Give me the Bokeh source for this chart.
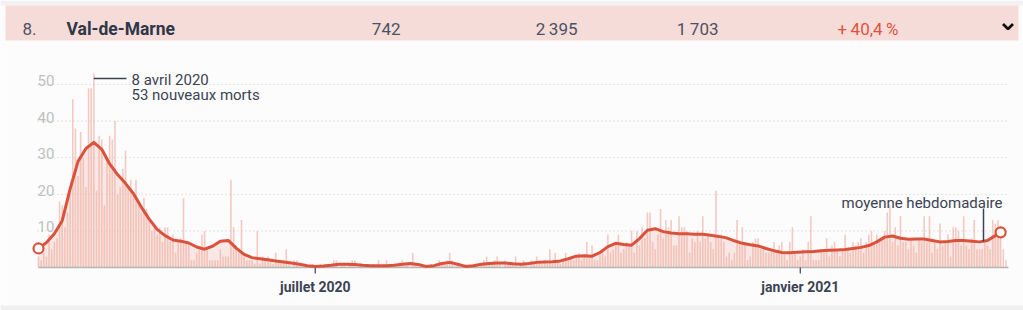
from bokeh.plotting import figure
from bokeh.models import Range1d
from bokeh.core.properties import value
from bokeh.embed import file_html
from bokeh.resources import INLINE
import pandas as pd

# ---------------- data ----------------
START_DATE = "2020-03-18"
daily_deaths = [
    3, 2, 4, 3, 9, 5, 7, 8, 18, 17,
    11, 15, 20, 46, 38, 25, 37, 30, 22, 49,
    49, 53, 21, 36, 35, 17, 29, 36, 35, 40,
    20, 22, 27, 32, 22, 24, 20, 24, 18, 15,
    19, 16, 13, 10, 12, 9, 11, 7, 11, 11,
    7, 9, 4, 7, 8, 19, 7, 7, 2, 2,
    4, 5, 9, 10, 5, 2, 2, 2, 2, 5,
    3, 3, 3, 24, 11, 6, 5, 13, 3, 2,
    2, 2, 1, 10, 1, 3, 2, 3, 2, 1,
    4, 2, 1, 2, 5, 1, 0, 2, 2, 1,
    0, 1, 0, 0, 1, 0, 0, 1, 0, 1,
    1, 0, 2, 2, 0, 1, 1, 0, 1, 2,
    2, 0, 1, 0, 1, 0, 0, 1, 0, 2,
    0, 1, 2, 0, 0, 1, 0, 1, 2, 1,
    1, 0, 4, 1, 0, 1, 0, 0, 0, 1,
    0, 1, 2, 1, 1, 2, 4, 2, 0, 1,
    0, 0, 1, 0, 0, 1, 1, 0, 1, 2,
    3, 1, 1, 2, 3, 1, 0, 2, 1, 1,
    1, 3, 0, 1, 2, 1, 0, 2, 1, 3,
    2, 1, 2, 1, 5, 1, 4, 2, 1, 2,
    4, 2, 3, 2, 3, 4, 2, 3, 7, 3,
    6, 2, 2, 4, 5, 3, 9, 4, 5, 6,
    9, 4, 5, 7, 6, 10, 4, 10, 6, 11,
    8, 15, 15, 7, 5, 9, 16, 8, 13, 11,
    13, 6, 6, 14, 11, 11, 10, 4, 8, 7,
    10, 7, 14, 8, 9, 7, 5, 21, 9, 9,
    7, 3, 4, 2, 4, 13, 7, 11, 7, 2,
    3, 7, 8, 8, 5, 5, 4, 4, 5, 7,
    4, 6, 7, 4, 2, 7, 11, 4, 2, 3,
    5, 2, 7, 14, 2, 2, 2, 5, 4, 8,
    3, 6, 7, 5, 3, 5, 9, 5, 4, 7,
    6, 7, 8, 4, 7, 9, 10, 7, 9, 7,
    8, 10, 15, 17, 7, 11, 6, 14, 7, 7,
    5, 8, 6, 4, 8, 7, 14, 7, 14, 4,
    7, 5, 12, 6, 7, 9, 3, 11, 11, 10,
    6, 14, 6, 5, 8, 13, 5, 5, 5, 7,
    6, 5, 13, 12, 13, 8, 5, 2,
]

avg_days = list(range(0, 364, 3)) + [365]
avg_values = [
    5.2, 6.8, 9.2, 12.8, 21.5, 29.0, 32.5, 34.2, 32.3, 28.3,
    25.4, 23.0, 20.2, 16.5, 13.2, 10.4, 8.7, 7.5, 7.2, 6.7,
    5.6, 5.0, 5.8, 7.2, 7.4, 5.3, 3.6, 2.7, 2.4, 2.1,
    1.8, 1.5, 1.2, 0.9, 0.5, 0.3, 0.4, 0.6, 0.9, 0.9,
    0.8, 0.6, 0.5, 0.5, 0.5, 0.6, 0.9, 1.1, 0.8, 0.3,
    0.5, 1.1, 1.4, 0.9, 0.3, 0.5, 0.9, 1.1, 1.2, 1.2,
    1.0, 0.9, 1.1, 1.4, 1.5, 1.6, 1.8, 2.4, 3.1, 3.2,
    3.1, 4.1, 5.7, 6.6, 6.3, 6.1, 7.9, 10.2, 10.6, 9.8,
    9.4, 9.2, 9.2, 9.1, 9.1, 8.8, 8.5, 8.1, 7.3, 6.6,
    6.2, 5.9, 5.2, 4.6, 4.1, 4.0, 4.2, 4.3, 4.4, 4.6,
    4.7, 4.8, 4.9, 5.2, 5.5, 6.0, 7.0, 8.3, 8.6, 8.0,
    7.7, 7.8, 7.8, 7.4, 7.0, 7.1, 7.4, 7.4, 7.2, 7.0,
    7.4, 8.7, 9.6,
]

y_ticks = [10, 20, 30, 40, 50]
x_tick_dates = ["2020-07-01", "2021-01-01"]
x_tick_labels = ["juillet 2020", "janvier 2021"]

peak_date = "2020-04-08"
peak_label = ["8 avril 2020", "53 nouveaux morts"]
avg_label = "moyenne hebdomadaire"

header_rank = "8."
header_name = "Val-de-Marne"
header_numbers = ["742", "2\u2009395", "1\u2009703"]
header_change = "+\u200940,4\u2009%"

assert len(avg_days) == len(avg_values)

start = pd.Timestamp(START_DATE)
days = list(range(len(daily_deaths)))
tick_days = [(pd.Timestamp(d) - start).days for d in x_tick_dates]
peak_day = (pd.Timestamp(peak_date) - start).days

# ---------------- layout helpers (pixel -> data) ----------------
W, H = 1023, 310
X0_PX, PX_DAY = 38.0, 2.636
BASE_PX, PX_UNIT = 267.0, 3.66


def xd(px):
    return (px - X0_PX) / PX_DAY


def yd(py):
    return (BASE_PX - py) / PX_UNIT


FONT = value("Roboto")
RED = "#db523c"
DARK = "#3b4353"

p = figure(width=W, height=H,
           x_range=Range1d(xd(0), xd(W)), y_range=Range1d(yd(H), yd(0)),
           x_axis_type=None, y_axis_type=None,
           output_backend="svg", toolbar_location=None, min_border=0)
p.outline_line_color = None
p.background_fill_color = "#fcfcfc"
p.border_fill_color = "#fcfcfc"

# header band
p.quad(left=[xd(0)], right=[xd(W)], top=[yd(0)], bottom=[yd(5)],
       fill_color="#f3f2f2", line_color=None)
p.quad(left=[xd(5)], right=[xd(1018)], top=[yd(5)], bottom=[yd(40)],
       fill_color="#f6dcd9", line_color=None)
p.quad(left=[xd(0)], right=[xd(W)], top=[yd(305)], bottom=[yd(H)],
       fill_color="#efefef", line_color=None)

hy = yd(28.5)
p.text(x=[xd(22)], y=[hy], text=[header_rank], text_font=FONT,
       text_font_size="17px", text_color="#4b5262", text_baseline="alphabetic")
p.text(x=[xd(66)], y=[hy], text=[header_name], text_font=FONT,
       text_font_size="17.5px", text_font_style="bold", text_color="#2f3747",
       text_baseline="alphabetic")
p.text(x=[xd(400), xd(577), xd(718)], y=[hy] * 3, text=header_numbers,
       text_font=FONT, text_font_size="17px", text_color="#4b5262",
       text_align="right", text_baseline="alphabetic")
p.text(x=[xd(898)], y=[hy], text=[header_change], text_font=FONT,
       text_font_size="17px", text_color="#e0533d", text_align="right",
       text_baseline="alphabetic")
p.line(x=[xd(1002.5), xd(1007.5), xd(1012.5)], y=[yd(23.5), yd(28.5), yd(23.5)],
       line_color="#111111", line_width=2.8)

# grid
p.segment(x0=[xd(37)] * len(y_ticks), x1=[xd(1008)] * len(y_ticks),
          y0=y_ticks, y1=y_ticks, line_color="#d2d2d2", line_dash="1 3",
          line_width=1.2)
p.text(x=[xd(37)] * len(y_ticks), y=y_ticks, text=[str(t) for t in y_ticks],
       text_font=FONT, text_font_size="15px", text_color="#c0c0c0",
       text_baseline="alphabetic", y_offset=-4)

# area under average, bars, average line
p.varea(x=avg_days, y1=[0] * len(avg_days), y2=avg_values,
        fill_color="#f5cfc8", fill_alpha=0.45)
p.vbar(x=days, top=daily_deaths, width=0.6, bottom=0,
       fill_color="#f0ada2", fill_alpha=0.65, line_color=None)

# x axis
p.segment(x0=[xd(38)], x1=[xd(1008)], y0=[0], y1=[0],
          line_color="#b5b5b5", line_width=1.5)
p.segment(x0=tick_days, x1=tick_days, y0=[0] * 2, y1=[yd(273)] * 2,
          line_color="#4a5160", line_width=1.3)
p.text(x=tick_days, y=[yd(286)] * 2, text=x_tick_labels, text_font=FONT,
       text_font_size="14px", text_font_style="bold", text_color=DARK,
       text_align="center", text_baseline="alphabetic")

p.line(x=avg_days, y=avg_values, line_color=RED, line_width=3,
       line_join="round")
p.scatter(x=[avg_days[0], avg_days[-1]], y=[avg_values[0], avg_values[-1]],
          size=10, fill_color="white", line_color=RED, line_width=2.2)

# annotations
p.segment(x0=[peak_day], x1=[xd(126)], y0=[yd(78)], y1=[yd(78)],
          line_color=DARK, line_width=1.5)
p.text(x=[xd(131)], y=[yd(79)], text=[peak_label[0]],
       text_font=FONT, text_font_size="15px", text_color=DARK,
       text_baseline="alphabetic")
p.text(x=[xd(131)], y=[yd(94)], text=[peak_label[1]],
       text_font=FONT, text_font_size="15px", text_color=DARK,
       text_baseline="alphabetic")
p.segment(x0=[xd(983)], x1=[xd(983)], y0=[yd(208)], y1=[yd(241)],
          line_color=DARK, line_width=1.5)
p.text(x=[xd(1002)], y=[yd(202.5)], text=[avg_label], text_font=FONT,
       text_font_size="15px", text_color=DARK, text_align="right",
       text_baseline="alphabetic")

open("out.html", "w").write(file_html(p, INLINE))
